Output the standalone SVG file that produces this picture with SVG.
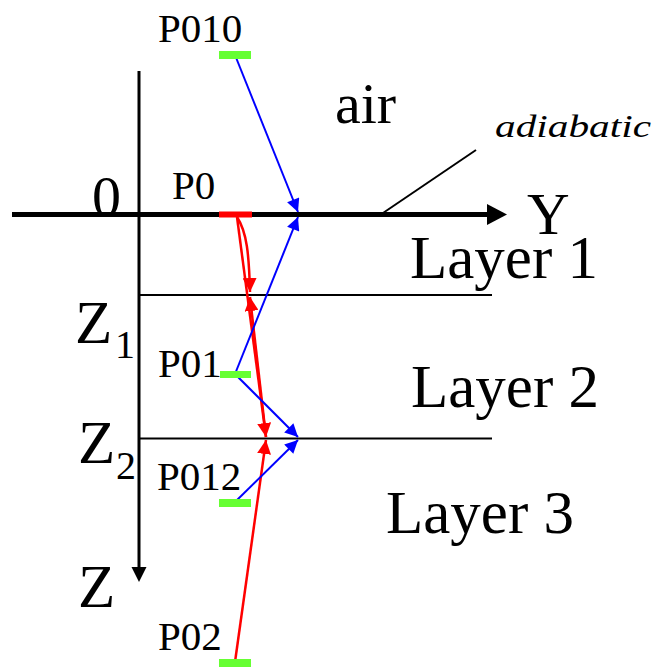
<svg xmlns="http://www.w3.org/2000/svg" width="661" height="667" viewBox="0 0 661 667">
<style>
text{font-family:"Liberation Serif","Times New Roman",serif;fill:#000}
.lbl{font-size:41px}
.big{font-size:61px}
.sub{font-size:40px}
.pt{fill:#66ff33}
.red{stroke:#ff0000;stroke-width:2.5;fill:none}
.blue{stroke:#0000ff;stroke-width:2;fill:none}
.layer{stroke:#000;stroke-width:2}
</style>
<defs>
<marker id="ar" viewBox="0 0 10 10" refX="10" refY="5" markerUnits="userSpaceOnUse" markerWidth="14" markerHeight="14" orient="auto">
<path d="M0,0 L10,5 L0,10 z" fill="#ff0000"/>
</marker>
<marker id="ab" viewBox="0 0 10 10" refX="10" refY="5" markerUnits="userSpaceOnUse" markerWidth="15" markerHeight="13" orient="auto">
<path d="M0,0 L10,5 L0,10 z" fill="#0000ff"/>
</marker>
</defs>

<g id="axes">
<line x1="12" y1="214.5" x2="490" y2="214.5" stroke="#000" stroke-width="5"/>
<polygon points="487,204 507,214.5 487,225" fill="#000"/>
<line x1="139" y1="71" x2="139" y2="569" stroke="#000" stroke-width="3"/>
<polygon points="131.5,567 146.5,567 139,582" fill="#000"/>
<line class="layer" x1="139" y1="295" x2="492" y2="295"/>
<line class="layer" x1="139" y1="438.5" x2="492" y2="438.5"/>
<line x1="383" y1="213" x2="476" y2="150" stroke="#000" stroke-width="2"/>
<text x="92" y="216" style="font-size:58px">0</text>
<text x="527" y="234" style="font-size:59px">Y</text>
<text x="75" y="343" class="big">Z</text><text x="115" y="358" class="sub">1</text>
<text x="78" y="463" class="big">Z</text><text x="116" y="479" class="sub">2</text>
<text x="78" y="607" class="big">Z</text>
</g>

<g id="labels">
<text x="335" y="123" style="font-size:58px">air</text>
<text x="495" y="137" style="font-size:32px;font-style:italic" textLength="156" lengthAdjust="spacingAndGlyphs">adiabatic</text>
<text x="410" y="278" class="big">Layer 1</text>
<text x="411" y="407" class="big">Layer 2</text>
<text x="386" y="533" class="big">Layer 3</text>
</g>

<g id="connectors">
<path class="red" d="M237,217 C247,232 249,255 250,292" marker-end="url(#ar)"/>
<path class="red" d="M237,217 L266,437" marker-end="url(#ar)"/>
<path class="red" d="M266,437 L250,297" marker-end="url(#ar)"/>
<path class="red" d="M235,662 L266,440" marker-end="url(#ar)"/>
<path class="blue" d="M235,55 L298,212" marker-end="url(#ab)"/>
<path class="blue" d="M235,374 L298,217" marker-end="url(#ab)"/>
<path class="blue" d="M235,374 L298,437" marker-end="url(#ab)"/>
<path class="blue" d="M235,502 L298,440" marker-end="url(#ab)"/>
</g>

<g id="P010"><rect class="pt" x="219" y="51" width="32" height="8"/><text x="158" y="42" class="lbl">P010</text></g>
<g id="P0"><rect x="219" y="211.5" width="33" height="6" fill="#ff0000"/><text x="172" y="199" class="lbl">P0</text></g>
<g id="P01"><rect class="pt" x="220" y="371" width="31" height="7"/><text x="158" y="377" class="lbl">P01</text></g>
<g id="P012"><rect class="pt" x="219" y="499" width="32" height="8"/><text x="157" y="490" class="lbl">P012</text></g>
<g id="P02"><rect class="pt" x="219" y="659" width="32" height="8"/><text x="158" y="650" class="lbl">P02</text></g>
</svg>
